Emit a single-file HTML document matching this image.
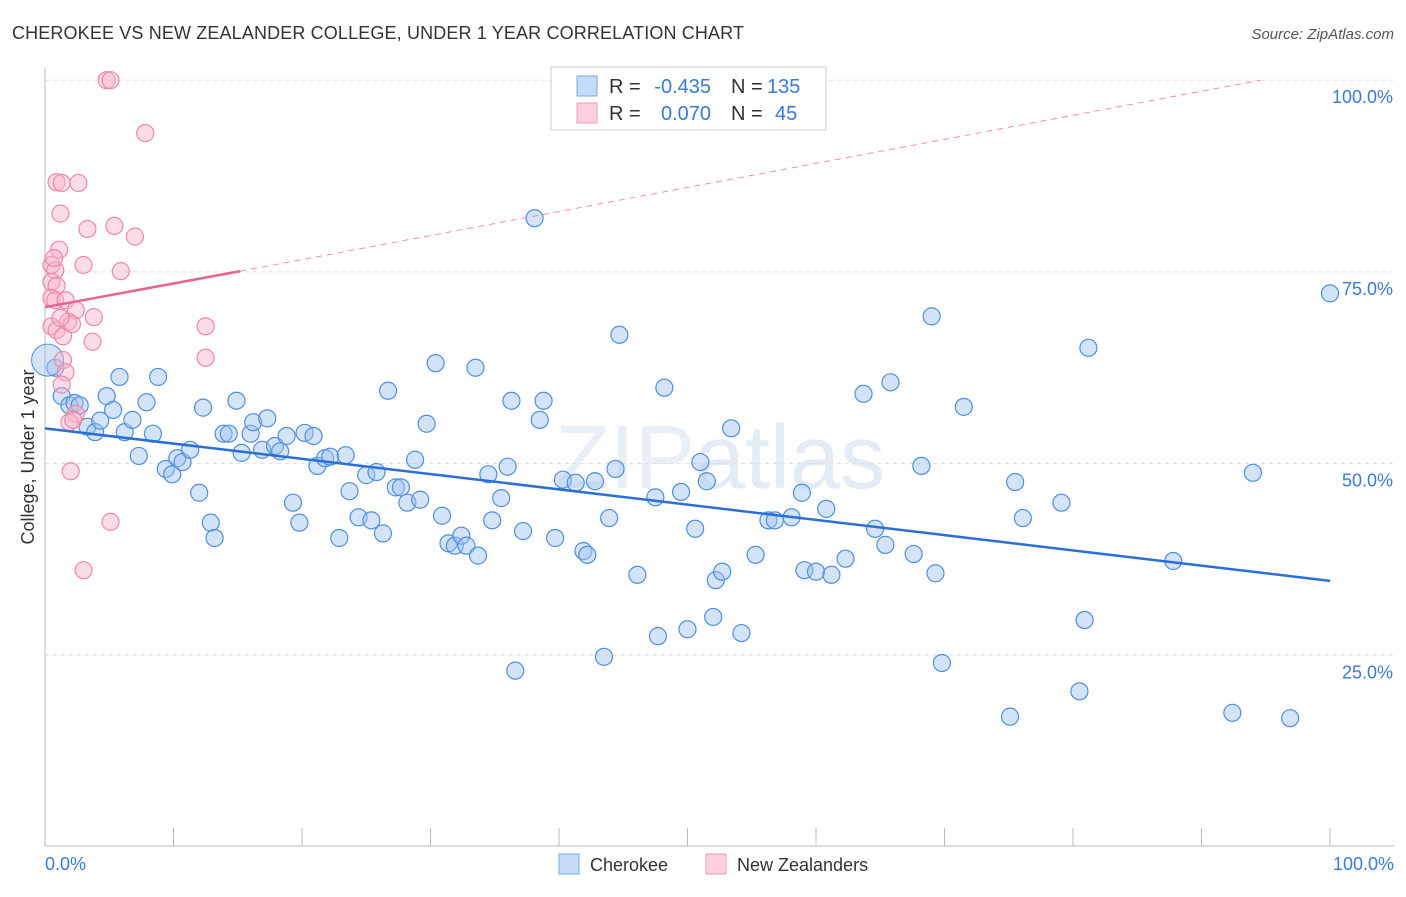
<!DOCTYPE html>
<html><head><meta charset="utf-8"><style>
body{margin:0;background:#fff;font-family:"Liberation Sans",sans-serif}
svg text{font-family:"Liberation Sans",sans-serif}
</style></head><body>
<svg width="1406" height="892">
<text x="12" y="39" font-size="18" fill="#333" textLength="732">CHEROKEE VS NEW ZEALANDER COLLEGE, UNDER 1 YEAR CORRELATION CHART</text>
<text x="1394" y="39" font-size="15" fill="#555" text-anchor="end" font-style="italic">Source: ZipAtlas.com</text>
<text x="720" y="488" font-size="90" fill="#e8eff7" text-anchor="middle" font-family="Liberation Serif">ZIP<tspan fill="#e2ebf6" font-family="Liberation Sans">atlas</tspan></text>
<g id="grid"></g><g id="marks"></g>
<text transform="translate(34,457) rotate(-90)" font-size="18" fill="#333" text-anchor="middle">College, Under 1 year</text>
<text x="45" y="870" font-size="18" fill="#3a7bd5">0.0%</text>
<text x="1394" y="870" font-size="18" fill="#3a7bd5" text-anchor="end">100.0%</text>
<g>
<rect x="551" y="67" width="275" height="63" fill="#fff" stroke="#ccc"/>
<rect x="577" y="76" width="20" height="20" fill="#c6dbf7" stroke="#7aa8e6"/>
<rect x="577" y="103" width="20" height="20" fill="#fcd0dc" stroke="#f09ab4"/>
<text x="609" y="93" font-size="20" fill="#333">R =</text>
<text x="711" y="93" font-size="20" fill="#3a7bd5" text-anchor="end">-0.435</text>
<text x="731" y="93" font-size="20" fill="#333">N =</text>
<text x="767" y="93" font-size="20" fill="#3a7bd5">135</text>
<text x="609" y="120" font-size="20" fill="#333">R =</text>
<text x="711" y="120" font-size="20" fill="#3a7bd5" text-anchor="end">0.070</text>
<text x="731" y="120" font-size="20" fill="#333">N =</text>
<text x="775" y="120" font-size="20" fill="#3a7bd5">45</text>
</g>
<g>
<rect x="559" y="854" width="20" height="20" fill="#c6dbf7" stroke="#7aa8e6"/>
<text x="590" y="871" font-size="18" fill="#333">Cherokee</text>
<rect x="706" y="854" width="20" height="20" fill="#fcd0dc" stroke="#f09ab4"/>
<text x="737" y="871" font-size="18" fill="#333">New Zealanders</text>
</g>
</svg>
<script>
const yTicks=[100,75,50,25];
const yTickLabels=["100.0%","75.0%","50.0%","25.0%"];
const xTicks=[0,10,20,30,40,50,60,70,80,90,100];
const blueX=[0.8,1.3,1.9,2.3,2.7,3.3,3.9,4.3,4.8,5.3,5.8,6.2,6.8,7.3,7.9,8.4,8.8,9.4,9.9,10.3,10.7,11.3,12.0,12.3,12.9,13.2,13.9,14.3,14.9,15.3,16.0,16.2,16.9,17.3,17.9,18.3,18.8,19.3,19.8,20.2,20.9,21.2,21.8,22.2,22.9,23.4,23.7,24.4,25.0,25.4,25.8,26.3,26.7,27.3,27.7,28.2,28.8,29.2,29.7,30.4,30.9,31.4,31.9,32.4,32.8,33.5,33.7,34.5,34.8,35.5,36.0,36.3,37.2,38.1,38.5,38.8,39.7,40.3,41.3,41.9,42.2,42.8,43.5,43.9,44.4,44.7,46.1,47.5,47.7,48.2,49.5,50.0,50.6,51.0,51.5,52.0,52.2,52.7,53.4,54.2,55.3,56.3,56.8,58.1,58.9,59.1,60.0,60.8,61.2,62.3,63.7,64.6,65.4,65.8,67.6,68.2,69.0,69.3,69.8,71.5,75.1,75.5,76.1,79.1,80.5,80.9,81.2,87.8,92.4,94.0,96.9,100,36.6];
const blueY=[62.5,58.8,57.6,57.9,57.6,54.8,54.1,55.6,58.8,57.0,61.3,54.1,55.7,51.0,58.0,53.9,61.3,49.3,48.6,50.7,50.2,51.8,46.2,57.3,42.3,40.3,53.9,53.9,58.2,51.4,53.9,55.4,51.8,55.9,52.3,51.6,53.6,44.9,42.3,54.0,53.6,49.7,50.7,50.9,40.3,51.1,46.4,43.0,48.5,42.6,48.9,40.9,59.5,46.9,46.9,44.9,50.5,45.3,55.2,63.1,43.2,39.6,39.3,40.6,39.3,62.5,38.0,48.6,42.6,45.5,49.6,58.2,41.2,82.0,55.7,58.2,40.3,47.9,47.5,38.6,38.1,47.7,24.8,42.9,49.3,66.8,35.5,45.6,27.5,59.9,46.3,28.4,41.5,50.2,47.7,30.0,34.8,35.9,54.6,27.9,38.1,42.6,42.6,43.0,46.2,36.1,35.9,44.1,35.5,37.6,59.1,41.5,39.4,60.6,38.2,49.7,69.2,35.7,24.0,57.4,17.0,47.6,42.9,44.9,20.3,29.6,65.1,37.3,17.5,48.8,16.8,72.2,23.0];
const pinkX=[4.8,5.1,7.8,0.9,1.3,2.6,1.2,3.3,5.4,7.0,1.1,3.0,5.9,0.5,0.8,0.5,0.9,0.5,0.8,1.6,2.4,3.8,12.5,0.5,0.9,1.4,3.7,12.5,1.4,1.6,1.3,2.4,1.9,2.2,2.0,5.1,3.0,0.7,1.8,2.1,1.2];
const pinkY=[100,100,93.1,86.7,86.6,86.6,82.6,80.6,81.0,79.6,77.9,75.9,75.1,75.9,75.2,73.7,73.2,71.6,71.3,71.3,70.0,69.1,67.9,67.9,67.4,66.6,65.9,63.8,63.5,61.9,60.3,56.5,55.4,55.7,49.0,42.4,36.1,76.8,68.5,68.2,69.0];
const blueTrend=[54.6,34.7];
const pinkTrend=[70.4,75.1,100];
const pinkTrendX=[0,15.2,94.6];
const X=v=>45+v*12.85, Y=v=>847-v*7.668;
const NS="http://www.w3.org/2000/svg";
function mk(t,a,p){const e=document.createElementNS(NS,t);for(const k in a)e.setAttribute(k,a[k]);p.appendChild(e);return e;}
const g=document.getElementById('grid'),m=document.getElementById('marks');
mk('line',{x1:45,y1:68,x2:45,y2:846,stroke:'#bbb'},g);
mk('line',{x1:45,y1:846,x2:1394,y2:846,stroke:'#bbb'},g);
yTicks.forEach((t,i)=>{
 const l=mk('line',{x1:45,y1:Y(t),x2:1394,y2:Y(t),stroke:'#ddd','stroke-dasharray':'4,4'},g);
 
 
 const tx=mk('text',{x:1393,y:Y(t)+23,'font-size':18,fill:'#3a7bd5','text-anchor':'end'},g);
 tx.textContent=yTickLabels[i];
 
 
});
xTicks.forEach(t=>{
 const l=mk('line',{x1:X(t),y1:828,x2:X(t),y2:846,stroke:'#bbb'},g);
 
 
});
blueX.forEach((x,i)=>{
 const c=mk('circle',{cx:X(x),cy:Y(blueY[i]),r:8.5,fill:'rgba(160,196,240,0.45)',stroke:'#4f8ee0','stroke-width':1.2},m);
 
 
});
const big=mk('circle',{cx:X(0.2),cy:Y(63.5),r:16,fill:'rgba(160,196,240,0.45)',stroke:'#4f8ee0','stroke-width':1},m);


pinkX.forEach((x,i)=>{
 const c=mk('circle',{cx:X(x),cy:Y(pinkY[i]),r:8.5,fill:'rgba(248,180,200,0.45)',stroke:'#ee88a8','stroke-width':1.2},m);
 
 
});
const bl=mk('line',{x1:X(0),y1:Y(blueTrend[0]),x2:X(100),y2:Y(blueTrend[1]),stroke:'#2a6fd6','stroke-width':2.5},m);


const pl=mk('line',{x1:X(pinkTrendX[0]),y1:Y(pinkTrend[0]),x2:X(pinkTrendX[1]),y2:Y(pinkTrend[1]),stroke:'#e8648c','stroke-width':2.5},m);


const pd=mk('line',{x1:X(pinkTrendX[1]),y1:Y(pinkTrend[1]),x2:X(pinkTrendX[2]),y2:Y(pinkTrend[2]),stroke:'#eb90aa','stroke-width':1,'stroke-dasharray':'6,5'},m);


</script>
</body></html>
